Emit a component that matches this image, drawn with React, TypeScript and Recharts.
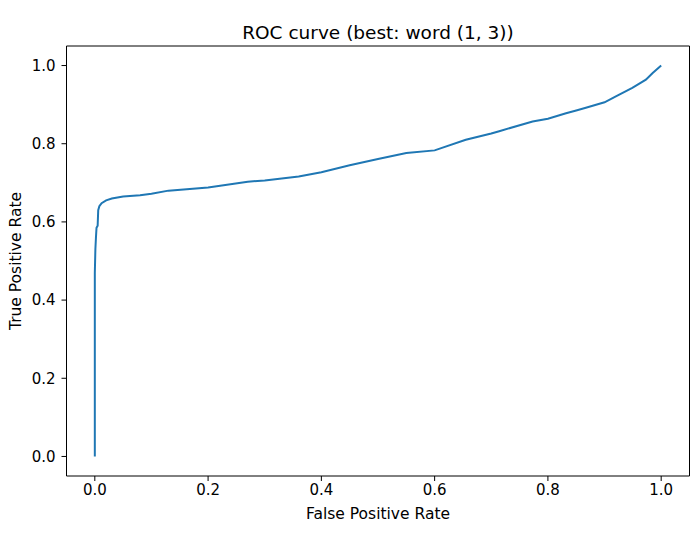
import { LineChart, Line, XAxis, YAxis, ReferenceLine } from 'recharts';

// values
const fpr = [0, 0, 0.001, 0.002, 0.003, 0.005, 0.006, 0.008, 0.012, 0.02, 0.03, 0.05, 0.08, 0.1, 0.13, 0.2, 0.27, 0.3, 0.36, 0.4, 0.45, 0.5, 0.55, 0.6, 0.655, 0.7, 0.714, 0.773, 0.8, 0.832, 0.85, 0.867, 0.9, 0.92, 0.949, 0.973, 0.985, 1.0];
const tpr = [0, 0.47, 0.53, 0.56, 0.585, 0.59, 0.63, 0.64, 0.648, 0.655, 0.66, 0.665, 0.668, 0.672, 0.68, 0.688, 0.703, 0.706, 0.716, 0.727, 0.745, 0.761, 0.776, 0.783, 0.81, 0.826, 0.832, 0.857, 0.864, 0.878, 0.885, 0.892, 0.906, 0.921, 0.943, 0.964, 0.981, 1.0];
const ticks = [0, 0.2, 0.4, 0.6, 0.8, 1.0];

const data = fpr.map((x, i) => ({ fpr: x, tpr: tpr[i] }));

const FONT = '"DejaVu Sans", sans-serif';
const tickStyle = { fill: '#000', fontSize: 15, fontFamily: FONT };

export default function App() {
  return (
    <div style={{ position: 'absolute', left: 0, top: 0, width: 695, height: 539, background: '#fff', fontFamily: FONT }}>
      <div style={{ position: 'absolute', left: 66, width: 624, top: 22, textAlign: 'center', fontSize: 18.5, color: '#000', lineHeight: '22px' }}>
        ROC curve (best: word (1, 3))
      </div>
      <div style={{ position: 'absolute', left: 66, width: 624, top: 505, textAlign: 'center', fontSize: 15.5, color: '#000', lineHeight: '18px' }}>
        False Positive Rate
      </div>
      <div style={{ position: 'absolute', left: 16, top: 261, width: 0, height: 0 }}>
        <div style={{ position: 'absolute', transform: 'translate(-50%, -50%) rotate(-90deg)', whiteSpace: 'nowrap', fontSize: 15.5, color: '#000', lineHeight: '18px' }}>
          True Positive Rate
        </div>
      </div>
      <LineChart width={695} height={539} data={data} margin={{ top: 46, right: 5.5, bottom: 0, left: 6.5 }}>
        <XAxis
          dataKey="fpr"
          type="number"
          domain={[-0.05, 1.05]}
          ticks={ticks}
          tickFormatter={(v: number) => v.toFixed(1)}
          allowDataOverflow
          height={63}
          tick={tickStyle}
          tickSize={5}
          tickMargin={3}
          stroke="#000"
        />
        <YAxis
          type="number"
          domain={[-0.05, 1.05]}
          ticks={ticks}
          tickFormatter={(v: number) => v.toFixed(1)}
          allowDataOverflow
          width={60}
          tick={tickStyle}
          tickSize={5}
          tickMargin={6}
          stroke="#000"
        />
        {/* top and right spines */}
        <ReferenceLine y={1.05} stroke="#000" strokeWidth={1} />
        <ReferenceLine x={1.05} stroke="#000" strokeWidth={1} />
        <Line dataKey="tpr" type="linear" stroke="#1f77b4" strokeWidth={2} dot={false} isAnimationActive={false} />
      </LineChart>
    </div>
  );
}
